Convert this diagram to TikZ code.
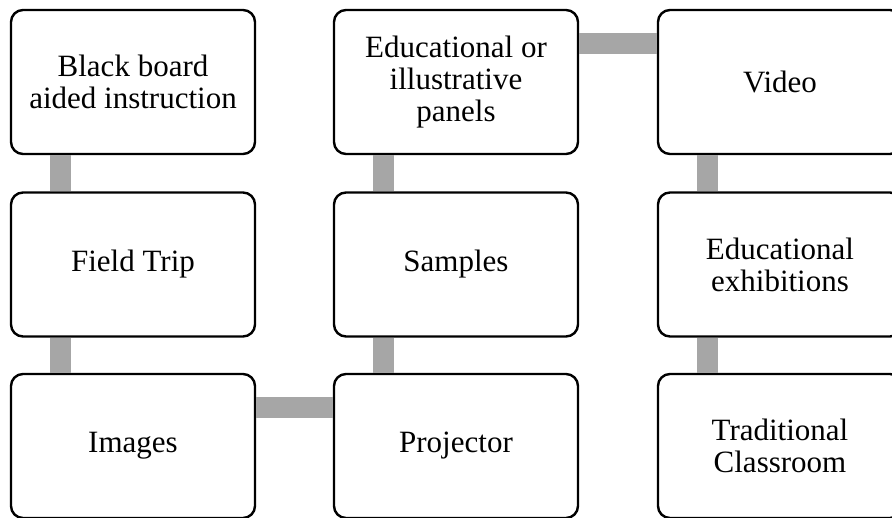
\documentclass[tikz,border=0pt]{standalone}
\usepackage{fontspec}
\setmainfont{Liberation Serif}

\tikzset{
  topic/.style={draw, rectangle, rounded corners=12pt, line width=2.4pt, fill=white,
    minimum width=\bw pt, minimum height=\bh pt, align=center,
    font=\fontsize{31}{32}\selectfont},
  link/.style={line width=21pt, draw=linkgray}
}
\definecolor{linkgray}{RGB}{166,166,166}

\begin{document}
\begin{tikzpicture}[x=1pt, y=-1pt]

        % Define parameters
        \def\bw{244}  % box width
        \def\bh{144}  % box height
        \def\cola{133}  % column centres
        \def\colb{456}
        \def\colc{780}
        \def\rowa{82}  % row centres
        \def\rowb{264.5}
        \def\rowc{446}

        % Frame of the picture
        \useasboundingbox (0,0) rectangle (892,517);
        \clip (0,0) rectangle (892,517);

        % Boxes
        \node[topic] (board) at (\cola,\rowa) {Black board\\aided instruction};
        \node[topic] (trip) at (\cola,\rowb) {Field Trip};
        \node[topic] (images) at (\cola,\rowc) {Images};
        \node[topic] (panels) at (\colb,\rowa) {Educational or\\illustrative\\panels};
        \node[topic] (samples) at (\colb,\rowb) {Samples};
        \node[topic] (projector) at (\colb,\rowc) {Projector};
        \node[topic] (video) at (\colc,\rowa) {Video};
        \node[topic] (exhibit) at (\colc,\rowb) {Educational\\exhibitions};
        \node[topic] (classroom) at (\colc,\rowc) {Traditional\\Classroom};

        % Vertical links
        \draw[link] ([xshift=51]board.south west) -- ([xshift=51]trip.north west);
        \draw[link] ([xshift=51]trip.south west) -- ([xshift=51]images.north west);
        \draw[link] ([xshift=51]panels.south west) -- ([xshift=51]samples.north west);
        \draw[link] ([xshift=51]samples.south west) -- ([xshift=51]projector.north west);
        \draw[link] ([xshift=51]video.south west) -- ([xshift=51]exhibit.north west);
        \draw[link] ([xshift=51]exhibit.south west) -- ([xshift=51]classroom.north west);

        % Horizontal links
        \draw[link] ([yshift=-35]images.north east) -- ([yshift=-35]projector.north west);
        \draw[link] ([yshift=-35]panels.north east) -- ([yshift=-35]video.north west);

    \end{tikzpicture}
\end{document}
